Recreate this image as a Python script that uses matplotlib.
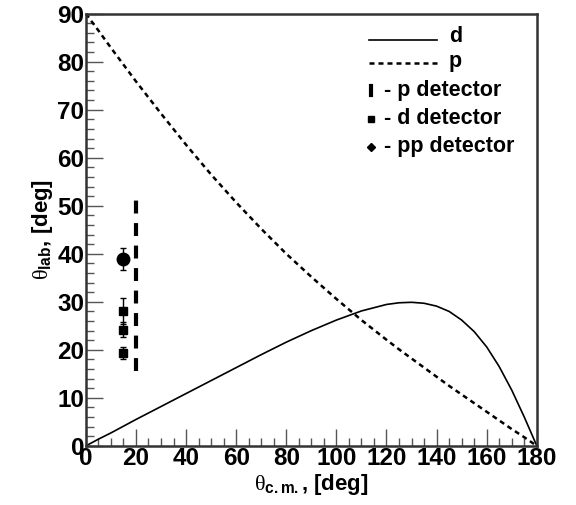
import matplotlib
matplotlib.use("Agg")
import matplotlib.pyplot as plt

plt.rcParams['font.family'] = ['Liberation Sans', 'DejaVu Sans']
plt.rcParams['mathtext.fontset'] = 'custom'
plt.rcParams['mathtext.rm'] = 'Liberation Sans:bold'
plt.rcParams['mathtext.bf'] = 'Liberation Sans:bold'
plt.rcParams['mathtext.it'] = 'Liberation Serif'

# kinematic curves
theta_cm = [0, 5, 10, 20, 30, 40, 50, 60, 70, 80, 90, 100, 110, 120, 125,
            130, 135, 140, 145, 150, 155, 160, 165, 170, 175, 180]
theta_d = [0, 1.4, 2.7, 5.5, 8.2, 10.9, 13.6, 16.3, 19.0, 21.6, 24.0, 26.2, 28.1,
           29.45, 29.8, 29.9, 29.7, 29.1, 28.0, 26.2, 23.8, 20.6, 16.5, 11.6, 6.0, 0]
theta_p = [90, 86.5, 82.9, 75.9, 69.2, 62.7, 56.5, 50.7, 45.2, 40.0, 35.2, 30.6, 26.2,
           22.1, 20.1, 18.2, 16.3, 14.4, 12.5, 10.7, 8.9, 7.1, 5.3, 3.5, 1.8, 0]

# detector acceptance
p_det_x = [20, 20]
p_det_y = [15.5, 52]
d_det_x = [15, 15, 15]
d_det_y = [28.1, 24.2, 19.3]
d_det_err = [2.7, 1.5, 1.3]
pp_det_x = [15]
pp_det_y = [39]
pp_det_err = [2.3]

fig = plt.figure(figsize=(5.76, 5.05), dpi=100)
ax = fig.add_axes([0.149, 0.117, 0.783, 0.856])

ax.plot(theta_cm, theta_d, color='black', lw=1.2)
ax.plot(theta_cm, theta_p, color='black', lw=1.8, linestyle=(0, (2.0, 1.6)))

ax.plot(p_det_x, p_det_y, color='black', lw=3.0, dash_capstyle='butt',
        linestyle=(0, (3.1, 2.3)))
ax.errorbar(d_det_x, d_det_y, yerr=d_det_err, fmt='s', color='black', ms=6,
            elinewidth=1, capsize=2)
ax.errorbar(pp_det_x, pp_det_y, yerr=pp_det_err, fmt='o', color='black', ms=9,
            elinewidth=1, capsize=2)

ax.set_xlim(0, 180)
ax.set_ylim(0, 90)
ax.set_xticks(range(0, 181, 20))
ax.set_yticks(range(0, 91, 10))
ax.set_xticks(range(0, 181, 5), minor=True)
ax.set_yticks(range(0, 91, 2), minor=True)
ax.tick_params(which='both', direction='in', top=False, right=False,
               width=1, color='#555555')
ax.tick_params(which='major', length=12, labelsize=17.5, pad=1)
ax.tick_params(which='minor', length=6)
for lab in ax.get_xticklabels() + ax.get_yticklabels():
    lab.set_fontweight('bold')
for sp in ax.spines.values():
    sp.set_linewidth(1.8)
    sp.set_color('#333333')

ax.set_xlabel(r'$\theta_{\mathbf{c.m.}}$, [deg]', fontsize=16, fontweight='bold', labelpad=1)
ax.set_ylabel(r'$\theta_{\mathbf{lab}}$, [deg]', fontsize=16, fontweight='bold', labelpad=2)

# legend drawn by hand in axes coordinates
tr = ax.transAxes
ax.plot([0.628, 0.778], [0.940, 0.940], color='black', lw=1.2, transform=tr)
ax.plot([0.628, 0.778], [0.885, 0.885], color='black', lw=1.8,
        linestyle=(0, (2.0, 1.6)), transform=tr)
ax.text(0.805, 0.946, 'd', transform=tr, fontsize=15.5, fontweight='bold', va='center')
ax.text(0.805, 0.889, 'p', transform=tr, fontsize=15.5, fontweight='bold', va='center')
ax.plot([0.632, 0.632], [0.811, 0.833], color='black', lw=3, transform=tr)
ax.plot([0.632], [0.757], marker='s', color='black', ms=4.5, transform=tr)
ax.plot([0.632], [0.692], marker='D', color='black', ms=4, transform=tr)
ax.text(0.662, 0.822, '- p detector', transform=tr, fontsize=15.5, fontweight='bold', va='center')
ax.text(0.662, 0.757, '- d detector', transform=tr, fontsize=15.5, fontweight='bold', va='center')
ax.text(0.662, 0.692, '- pp detector', transform=tr, fontsize=15.5, fontweight='bold', va='center')

fig.savefig('out.png', dpi=100)
